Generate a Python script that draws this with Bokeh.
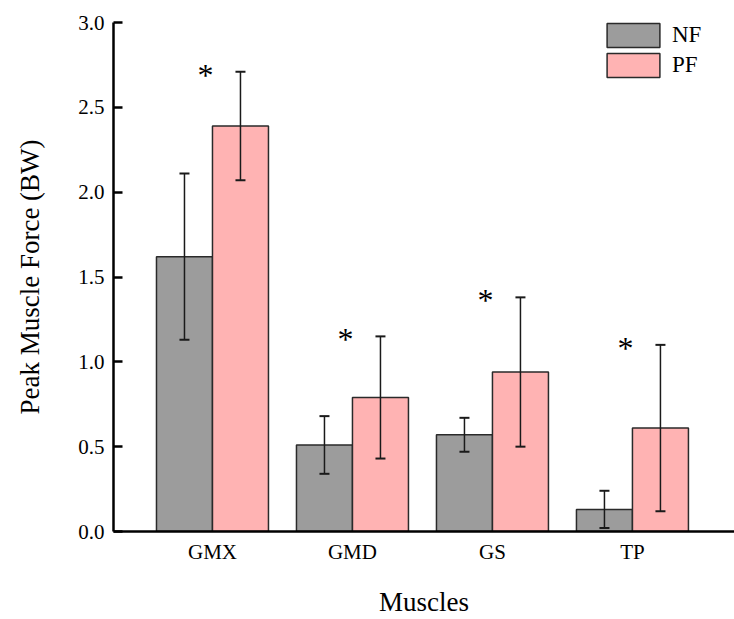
from bokeh.plotting import figure
from bokeh.models import ColumnDataSource, Whisker, TeeHead, Legend, LegendItem, FixedTicker, Range1d
from bokeh.core.properties import value
from bokeh.embed import file_html
from bokeh.resources import INLINE

muscles = ["GMX", "GMD", "GS", "TP"]
nf_mean = [1.62, 0.51, 0.57, 0.13]
nf_sd = [0.49, 0.17, 0.10, 0.11]
pf_mean = [2.39, 0.79, 0.94, 0.61]
pf_sd = [0.32, 0.36, 0.44, 0.49]
y_ticks = [0.0, 0.5, 1.0, 1.5, 2.0, 2.5, 3.0]

FONT = "Liberation Serif"
W = 0.4
idx = list(range(len(muscles)))

p = figure(width=734, height=619, output_backend="svg", toolbar_location=None,
           x_range=Range1d(-0.707, 3.729), y_range=Range1d(0, 3.0),
           min_border_left=113, min_border_top=22, min_border_bottom=88, min_border_right=0)
p.outline_line_color = None
p.grid.visible = False
p.background_fill_color = "white"

nf_src = ColumnDataSource(dict(x=[i - W / 2 for i in idx], top=nf_mean,
                               upper=[m + s for m, s in zip(nf_mean, nf_sd)],
                               lower=[m - s for m, s in zip(nf_mean, nf_sd)]))
pf_src = ColumnDataSource(dict(x=[i + W / 2 for i in idx], top=pf_mean,
                               upper=[m + s for m, s in zip(pf_mean, pf_sd)],
                               lower=[m - s for m, s in zip(pf_mean, pf_sd)]))

r_nf = p.vbar(x="x", top="top", width=W, bottom=0, source=nf_src,
              fill_color="#9c9c9c", line_color="#2a2a2a", line_width=1.5)
r_pf = p.vbar(x="x", top="top", width=W, bottom=0, source=pf_src,
              fill_color="#ffb3b3", line_color="#2a2a2a", line_width=1.5)

for src in (nf_src, pf_src):
    w = Whisker(base="x", upper="upper", lower="lower", source=src, level="overlay",
                line_color="#1a1a1a", line_width=1.5,
                upper_head=TeeHead(size=10, line_color="#1a1a1a", line_width=2),
                lower_head=TeeHead(size=10, line_color="#1a1a1a", line_width=2))
    p.add_layout(w)

star_src = ColumnDataSource(dict(x=[i - 0.05 for i in idx],
                                 y=[m + s for m, s in zip(pf_mean, pf_sd)],
                                 t=["*"] * len(idx)))
p.text(x="x", y="y", text="t", source=star_src, text_font=value(FONT),
       text_font_size="32px", text_align="center", text_baseline="middle",
       text_color="black", y_offset=3)

p.xaxis.ticker = FixedTicker(ticks=idx)
p.xaxis.major_label_overrides = {i: m for i, m in zip(idx, muscles)}
p.xaxis.major_tick_line_color = None
p.xaxis.minor_tick_line_color = None
p.xaxis.axis_label = "Muscles"
p.xaxis.major_label_standoff = 2
p.xaxis.axis_label_standoff = 20

p.yaxis.ticker = FixedTicker(ticks=y_ticks)
p.yaxis.major_label_overrides = {t: f"{t:.1f}" for t in y_ticks}
p.yaxis.major_tick_in = 9
p.yaxis.major_tick_out = 0
p.yaxis.minor_tick_line_color = None
p.yaxis.axis_label = "Peak Muscle Force (BW)"
p.yaxis.major_label_standoff = 9
p.yaxis.axis_label_standoff = 30

for ax in (p.xaxis, p.yaxis):
    ax.axis_line_width = 2.5
    ax.axis_line_color = "black"
    ax.major_tick_line_width = 2.5
    ax.major_label_text_font = FONT
    ax.major_label_text_font_size = "21px"
    ax.major_label_text_color = "black"
    ax.axis_label_text_font = FONT
    ax.axis_label_text_font_size = "27px"
    ax.axis_label_text_font_style = "normal"
    ax.axis_label_text_color = "black"

legend = Legend(items=[LegendItem(label="NF", renderers=[r_nf]),
                       LegendItem(label="PF", renderers=[r_pf])],
                location=(487, 451), glyph_width=66, glyph_height=30,
                label_text_font=FONT, label_text_font_size="23px",
                label_text_color="black",
                label_standoff=6, spacing=0, padding=0, margin=0,
                border_line_alpha=0, background_fill_alpha=0, label_height=30)
p.add_layout(legend)

open("out.html", "w").write(file_html(p, INLINE))
